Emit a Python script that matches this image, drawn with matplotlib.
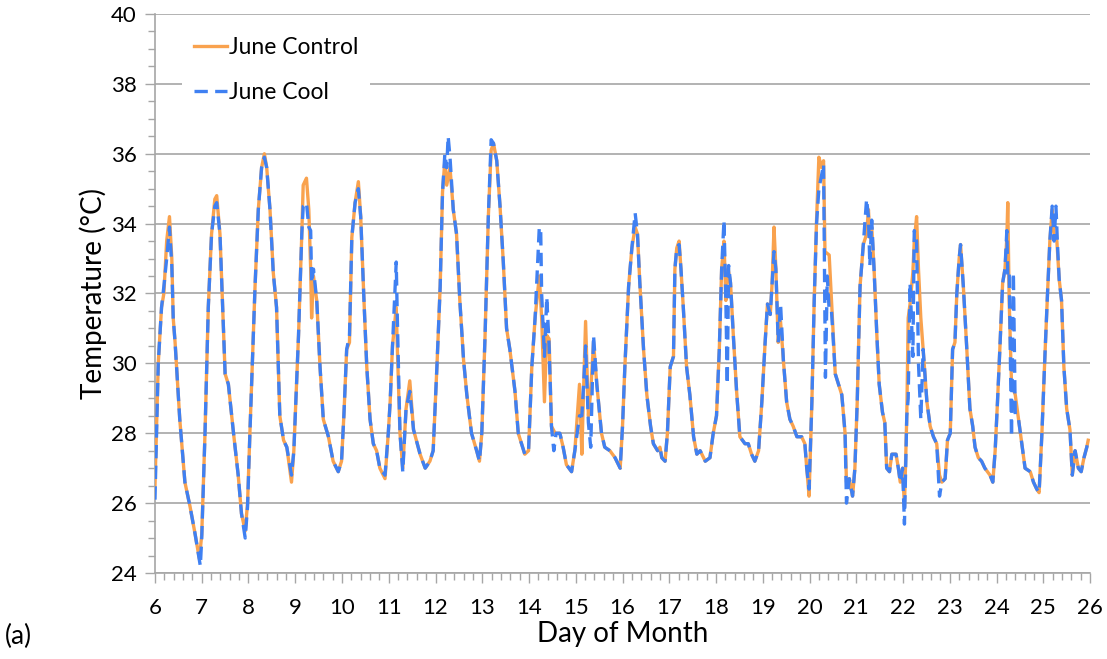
import numpy as np
import matplotlib.pyplot as plt
from matplotlib.ticker import MultipleLocator

# June Control (orange, solid)
ctrl_day = [
    6.00, 6.07, 6.14, 6.19, 6.25, 6.31, 6.36, 6.39, 6.43, 6.53, 6.64, 6.75, 6.86, 6.95,
    7.00, 7.07, 7.14, 7.21, 7.28, 7.32, 7.39, 7.50, 7.57, 7.68, 7.78, 7.85, 7.93, 7.98,
    8.03, 8.14, 8.21, 8.28, 8.34, 8.39, 8.46, 8.53, 8.60, 8.67, 8.75, 8.82, 8.92, 8.97,
    9.07, 9.14, 9.17, 9.24, 9.29, 9.33, 9.35, 9.39, 9.46, 9.53, 9.60, 9.71, 9.81, 9.92, 9.99,
    10.04, 10.10, 10.16, 10.21, 10.28, 10.35, 10.40, 10.47, 10.53, 10.60, 10.67, 10.74, 10.81, 10.92, 10.99,
    11.03, 11.08, 11.16, 11.18, 11.24, 11.30, 11.37, 11.45, 11.53, 11.67, 11.78, 11.88, 11.95,
    12.03, 12.10, 12.15, 12.20, 12.24, 12.31, 12.38, 12.45, 12.52, 12.60, 12.67, 12.77, 12.88, 12.94, 12.99,
    13.06, 13.13, 13.19, 13.24, 13.31, 13.38, 13.45, 13.52, 13.59, 13.70, 13.77, 13.91, 13.99,
    14.06, 14.13, 14.22, 14.27, 14.33, 14.38, 14.43, 14.48, 14.56, 14.66, 14.73, 14.80, 14.91, 14.98,
    15.08, 15.13, 15.16, 15.21, 15.27, 15.32, 15.38, 15.45, 15.55, 15.62, 15.73, 15.84, 15.95,
    16.00, 16.05, 16.13, 16.20, 16.27, 16.32, 16.37, 16.45, 16.52, 16.60, 16.66, 16.75, 16.80, 16.84, 16.91, 16.96,
    17.02, 17.09, 17.12, 17.16, 17.21, 17.25, 17.30, 17.37, 17.44, 17.52, 17.59, 17.66, 17.77, 17.87, 17.94,
    18.01, 18.07, 18.12, 18.17, 18.21, 18.26, 18.31, 18.37, 18.44, 18.51, 18.62, 18.69, 18.76, 18.83, 18.91, 18.98,
    19.05, 19.10, 19.16, 19.20, 19.24, 19.28, 19.33, 19.38, 19.44, 19.51, 19.58, 19.65, 19.73, 19.83, 19.90, 19.94, 19.99,
    20.05, 20.10, 20.15, 20.20, 20.26, 20.30, 20.33, 20.42, 20.47, 20.55, 20.62, 20.69, 20.76, 20.79, 20.85, 20.92, 20.97,
    21.02, 21.08, 21.15, 21.22, 21.26, 21.29, 21.33, 21.38, 21.44, 21.49, 21.56, 21.61, 21.65, 21.71, 21.76, 21.85, 21.90, 21.94, 21.99,
    22.03, 22.08, 22.11, 22.15, 22.21, 22.24, 22.29, 22.33, 22.38, 22.43, 22.51, 22.58, 22.65, 22.72, 22.78, 22.83, 22.90, 22.95,
    23.01, 23.06, 23.11, 23.15, 23.20, 23.23, 23.29, 23.36, 23.43, 23.49, 23.54, 23.61, 23.68, 23.75, 23.86, 23.92, 23.97,
    24.02, 24.07, 24.13, 24.18, 24.22, 24.24, 24.27, 24.32, 24.40, 24.47, 24.54, 24.61, 24.72, 24.79, 24.86, 24.91, 24.97,
    25.04, 25.09, 25.14, 25.19, 25.23, 25.29, 25.34, 25.39, 25.44, 25.50, 25.57, 25.62, 25.68, 25.75, 25.81, 25.87, 25.93, 25.96,
]
ctrl_temp = [
    26.5, 30.0, 31.6, 32.0, 33.5, 34.2, 33.0, 31.3, 30.6, 28.4, 26.6, 25.9, 25.1, 24.4,
    25.1, 28.0, 31.6, 33.7, 34.7, 34.8, 33.7, 29.7, 29.4, 28.0, 26.8, 25.7, 25.2, 26.0,
    28.0, 32.2, 34.4, 35.6, 36.0, 35.6, 34.4, 32.6, 31.6, 28.5, 27.8, 27.6, 26.6, 27.5,
    30.8, 33.7, 35.1, 35.3, 34.4, 32.7, 31.3, 32.5, 31.8, 29.9, 28.4, 27.9, 27.2, 26.9, 27.2,
    28.5, 30.4, 30.6, 33.6, 34.6, 35.2, 34.2, 31.8, 29.9, 28.4, 27.7, 27.5, 27.0, 26.7, 28.0,
    28.9, 30.5, 31.6, 30.6, 28.0, 27.0, 28.7, 29.5, 28.1, 27.4, 27.0, 27.2, 27.5,
    29.9, 32.2, 34.9, 35.8, 35.1, 35.6, 34.4, 33.7, 31.8, 30.1, 29.1, 28.0, 27.5, 27.2, 28.0,
    30.8, 34.2, 36.1, 36.3, 35.8, 34.5, 32.9, 31.0, 30.4, 29.2, 28.0, 27.4, 27.5,
    29.9, 31.3, 32.5, 31.3, 28.9, 30.8, 30.7, 28.2, 28.0, 28.0, 27.6, 27.1, 26.9, 27.5,
    29.4, 27.4, 28.9, 31.2, 28.5, 29.2, 30.6, 29.4, 28.0, 27.6, 27.5, 27.3, 27.0,
    28.2, 29.9, 32.2, 33.3, 33.9, 33.7, 32.3, 30.4, 29.1, 28.2, 27.7, 27.5, 27.6, 27.3, 27.2, 28.0,
    29.9, 30.2, 32.7, 33.3, 33.5, 32.7, 31.6, 29.9, 29.1, 27.9, 27.4, 27.5, 27.2, 27.3, 28.0,
    28.5, 30.4, 32.7, 33.5, 31.8, 32.7, 32.3, 30.8, 29.2, 27.9, 27.7, 27.7, 27.4, 27.2, 27.5, 28.9,
    30.6, 31.7, 31.4, 32.3, 33.9, 32.7, 30.6, 31.2, 30.1, 28.9, 28.4, 28.2, 27.9, 27.9, 27.7, 27.0, 26.2,
    28.9, 31.8, 34.1, 35.9, 35.6, 35.8, 33.2, 33.1, 31.8, 29.7, 29.4, 29.1, 28.0, 26.6, 26.7, 26.2, 27.0,
    28.9, 32.2, 33.4, 33.7, 34.4, 33.6, 33.9, 32.7, 30.8, 29.4, 28.6, 28.3, 27.0, 26.9, 27.4, 27.4, 27.0, 26.6, 27.0,
    25.9, 28.5, 31.3, 31.7, 32.6, 33.5, 34.2, 32.7, 31.3, 30.4, 28.9, 28.2, 27.9, 27.7, 26.8, 26.6, 26.7, 27.8,
    28.0, 30.4, 30.6, 32.0, 33.0, 33.4, 32.2, 30.5, 28.7, 28.2, 27.6, 27.3, 27.2, 27.0, 26.8, 26.6, 27.5,
    28.9, 30.4, 32.3, 32.7, 33.6, 34.6, 31.8, 29.4, 29.1, 28.4, 27.7, 27.0, 26.9, 26.6, 26.4, 26.3, 28.0,
    30.4, 32.0, 33.5, 34.4, 33.7, 33.5, 32.4, 31.8, 29.9, 28.7, 28.1, 26.8, 27.5, 27.0, 26.9, 27.3, 27.6, 27.8,
]

# June Cool (blue, dashed)
cool_day = [
    6.00, 6.07, 6.14, 6.19, 6.25, 6.31, 6.36, 6.39, 6.43, 6.53, 6.64, 6.75, 6.86, 6.97,
    7.00, 7.07, 7.14, 7.21, 7.28, 7.32, 7.39, 7.50, 7.57, 7.68, 7.78, 7.85, 7.93, 7.98,
    8.03, 8.14, 8.21, 8.28, 8.34, 8.39, 8.46, 8.53, 8.60, 8.67, 8.75, 8.82, 8.92, 8.97,
    9.07, 9.14, 9.17, 9.24, 9.29, 9.33, 9.35, 9.39, 9.46, 9.53, 9.60, 9.71, 9.81, 9.92, 9.99,
    10.04, 10.10, 10.16, 10.21, 10.28, 10.35, 10.40, 10.47, 10.53, 10.60, 10.67, 10.74, 10.81, 10.92, 10.99,
    11.03, 11.08, 11.16, 11.18, 11.24, 11.30, 11.37, 11.45, 11.53, 11.67, 11.78, 11.88, 11.95,
    12.03, 12.10, 12.15, 12.20, 12.24, 12.27, 12.31, 12.38, 12.45, 12.52, 12.60, 12.67, 12.77, 12.88, 12.94, 12.99,
    13.06, 13.13, 13.19, 13.24, 13.31, 13.38, 13.45, 13.52, 13.59, 13.70, 13.77, 13.91, 13.99,
    14.06, 14.13, 14.22, 14.25, 14.27, 14.33, 14.38, 14.43, 14.48, 14.53, 14.58, 14.66, 14.73, 14.80, 14.91, 14.98,
    15.08, 15.13, 15.16, 15.21, 15.27, 15.32, 15.38, 15.45, 15.55, 15.62, 15.73, 15.84, 15.95,
    16.00, 16.05, 16.13, 16.20, 16.27, 16.32, 16.37, 16.45, 16.52, 16.60, 16.66, 16.75, 16.80, 16.84, 16.91, 16.96,
    17.02, 17.09, 17.12, 17.16, 17.21, 17.25, 17.30, 17.37, 17.44, 17.52, 17.59, 17.66, 17.77, 17.87, 17.94,
    18.01, 18.07, 18.12, 18.17, 18.21, 18.24, 18.27, 18.31, 18.37, 18.44, 18.51, 18.62, 18.69, 18.76, 18.83, 18.91, 18.98,
    19.05, 19.10, 19.16, 19.20, 19.24, 19.28, 19.33, 19.38, 19.44, 19.51, 19.58, 19.65, 19.73, 19.83, 19.90, 19.94, 19.99,
    20.05, 20.10, 20.15, 20.20, 20.26, 20.30, 20.34, 20.38, 20.42, 20.47, 20.55, 20.62, 20.69, 20.76, 20.79, 20.85, 20.92, 20.97,
    21.02, 21.08, 21.15, 21.22, 21.26, 21.29, 21.33, 21.38, 21.44, 21.49, 21.56, 21.61, 21.65, 21.71, 21.76, 21.85, 21.90, 21.94, 21.99,
    22.03, 22.08, 22.11, 22.15, 22.21, 22.24, 22.29, 22.33, 22.38, 22.43, 22.51, 22.58, 22.65, 22.72, 22.78, 22.83, 22.90, 22.95,
    23.01, 23.06, 23.11, 23.15, 23.20, 23.23, 23.29, 23.36, 23.43, 23.49, 23.54, 23.61, 23.68, 23.75, 23.86, 23.92, 23.97,
    24.02, 24.07, 24.13, 24.18, 24.22, 24.24, 24.27, 24.32, 24.36, 24.40, 24.47, 24.54, 24.61, 24.72, 24.79, 24.86, 24.91, 24.97,
    25.04, 25.09, 25.14, 25.19, 25.23, 25.27, 25.31, 25.34, 25.39, 25.44, 25.50, 25.57, 25.62, 25.68, 25.75, 25.81, 25.87, 25.93, 25.96,
]
cool_temp = [
    26.1, 30.0, 31.6, 32.2, 33.0, 33.9, 32.8, 31.3, 30.6, 28.4, 26.6, 25.9, 25.1, 24.2,
    25.0, 28.0, 31.6, 33.7, 34.5, 34.6, 33.7, 29.7, 29.4, 28.0, 26.8, 25.7, 25.0, 25.9,
    28.0, 32.2, 34.4, 35.6, 35.9, 35.6, 34.4, 32.6, 31.6, 28.5, 27.8, 27.6, 26.8, 27.5,
    30.8, 33.7, 34.5, 34.6, 33.9, 33.8, 32.3, 32.7, 31.8, 29.9, 28.4, 27.9, 27.2, 26.9, 27.2,
    28.5, 30.4, 30.8, 33.6, 34.6, 35.0, 34.2, 31.8, 29.9, 28.4, 27.7, 27.5, 27.0, 26.8, 28.0,
    28.9, 30.5, 32.9, 31.5, 28.0, 26.9, 28.7, 29.2, 28.1, 27.4, 27.0, 27.2, 27.5,
    29.9, 32.2, 34.9, 36.0, 35.6, 36.5, 35.9, 34.4, 33.7, 31.8, 30.1, 29.1, 28.0, 27.5, 27.2, 28.0,
    30.8, 34.2, 36.4, 36.3, 35.8, 34.5, 32.9, 31.0, 30.4, 29.2, 28.0, 27.4, 27.5,
    29.9, 31.3, 33.9, 33.8, 32.0, 30.2, 31.9, 30.5, 28.2, 27.5, 28.0, 28.0, 27.6, 27.1, 26.9, 27.5,
    28.5, 28.5, 29.2, 30.5, 28.3, 27.6, 30.8, 29.4, 28.0, 27.6, 27.5, 27.3, 27.0,
    28.2, 29.9, 32.2, 33.3, 34.3, 33.7, 32.3, 30.4, 29.1, 28.2, 27.7, 27.5, 27.6, 27.3, 27.2, 28.0,
    29.9, 30.2, 32.7, 33.3, 33.4, 32.7, 31.6, 29.9, 29.1, 27.9, 27.4, 27.5, 27.2, 27.3, 28.0,
    28.5, 30.4, 32.7, 34.1, 31.8, 29.4, 32.8, 32.3, 30.8, 29.2, 27.9, 27.7, 27.7, 27.4, 27.2, 27.5, 28.9,
    30.6, 31.7, 31.4, 32.3, 33.2, 32.7, 30.6, 31.7, 30.1, 28.9, 28.4, 28.2, 27.9, 27.9, 27.7, 27.0, 26.4,
    28.9, 31.8, 34.0, 35.0, 35.4, 35.7, 29.6, 32.5, 31.5, 31.5, 29.7, 29.4, 29.1, 28.0, 26.0, 26.7, 26.2, 27.0,
    28.9, 32.2, 33.4, 34.7, 34.2, 32.8, 34.1, 32.7, 30.8, 29.4, 28.6, 28.3, 27.0, 26.9, 27.4, 27.4, 27.0, 26.6, 27.0,
    25.4, 28.5, 29.0, 32.3, 30.2, 33.8, 33.5, 30.0, 28.4, 30.4, 28.9, 28.2, 27.9, 27.7, 26.2, 26.6, 26.7, 27.8,
    28.0, 30.4, 30.6, 32.0, 33.0, 33.4, 32.2, 30.5, 28.7, 28.2, 27.6, 27.3, 27.2, 27.0, 26.8, 26.6, 27.5,
    28.9, 30.4, 32.3, 32.7, 33.8, 32.5, 32.6, 27.9, 32.6, 28.5, 28.4, 27.7, 27.0, 26.9, 26.6, 26.4, 26.3, 28.0,
    30.4, 32.0, 33.5, 34.5, 33.5, 34.5, 33.2, 32.4, 31.8, 29.9, 28.7, 28.1, 26.8, 27.5, 27.0, 26.9, 27.3, 27.6, 27.8,
]

X_TICKS = list(range(6, 27))
Y_TICKS = list(range(24, 41, 2))

ORANGE = "#F9A24E"
BLUE = "#3F80F2"
GRID = "#A6A6A6"

plt.rcParams["font.family"] = ["Lato", "DejaVu Sans"]

fig = plt.figure(figsize=(11.07, 6.59), dpi=100)
ax = fig.add_axes([0.140, 0.1305, 0.8447, 0.8483])

ax.plot(ctrl_day, ctrl_temp, color=ORANGE, lw=2.4, label="June Control", zorder=3)
ax.plot(cool_day, cool_temp, color=BLUE, lw=2.4, ls=(0, (4, 2.2)), label="June Cool", zorder=4)

ax.set_xlim(6, 26)
ax.set_ylim(24, 40)
ax.set_xticks(X_TICKS)
ax.set_yticks(Y_TICKS)
ax.xaxis.set_minor_locator(MultipleLocator(0.2))
ax.yaxis.set_minor_locator(MultipleLocator(0.5))
ax.tick_params(axis="both", which="major", length=7, width=1, color=GRID, labelsize=16)
ax.tick_params(axis="x", which="major", pad=11)
ax.tick_params(axis="y", which="major", pad=6)
ax.tick_params(axis="both", which="minor", length=5, width=1, color=GRID)
ax.grid(axis="y", which="major", color=GRID, lw=1.2)
ax.set_axisbelow(True)

for side in ["top", "right"]:
    ax.spines[side].set_visible(False)
for side in ["left", "bottom"]:
    ax.spines[side].set_color(GRID)
    ax.spines[side].set_linewidth(1.2)

ax.set_xlabel("Day of Month", fontsize=20, labelpad=2)
ax.set_ylabel("Temperature (°C)", fontsize=20, labelpad=3)

leg = ax.legend(loc="upper left", bbox_to_anchor=(0.017, 1.0), frameon=True,
                fontsize=16.5, handlelength=1.45, handletextpad=0.1, labelspacing=1.05,
                borderpad=0.5)
leg.get_frame().set_facecolor("white")
leg.get_frame().set_edgecolor("none")
leg.get_frame().set_alpha(1)

fig.text(0.004, 0.022, "(a)", fontsize=19, va="baseline")

fig.savefig("out.png", dpi=100)
